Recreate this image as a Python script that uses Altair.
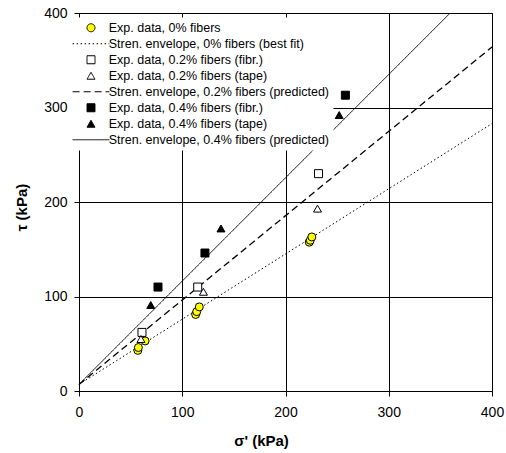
import altair as alt
import pandas as pd

# ---- data ----
series_labels = [
    "Exp. data, 0% fibers",
    "Stren. envelope, 0% fibers (best fit)",
    "Exp. data, 0.2% fibers (fibr.)",
    "Exp. data, 0.2% fibers (tape)",
    "Stren. envelope, 0.2% fibers (predicted)",
    "Exp. data, 0.4% fibers (fibr.)",
    "Exp. data, 0.4% fibers (tape)",
    "Stren. envelope, 0.4% fibers (predicted)",
]

sig_0 = [57, 57.5, 64, 113, 114, 116.5, 223, 224, 225.5]
tau_0 = [43, 46, 53, 81, 84, 89, 157.5, 159.5, 163]
sig_02_fibr = [61, 115, 232]
tau_02_fibr = [62, 110, 230]
sig_02_tape = [60, 120.5, 231]
tau_02_tape = [55, 105, 193]
sig_04_fibr = [76.5, 122, 258]
tau_04_fibr = [110, 146, 313]
sig_04_tape = [69.5, 137.5, 252]
tau_04_tape = [91, 172, 292]

env_sig_0 = [0, 400]
env_tau_0 = [7, 283]
env_sig_02 = [0, 400]
env_tau_02 = [7, 364]
env_sig_04 = [0, 359.5]
env_tau_04 = [7, 400]

tick_values = [0, 100, 200, 300, 400]

# ---- tables ----
def tbl(s, t, name):
    return pd.DataFrame({"sigma": s, "tau": t, "series": name})

points = pd.concat([
    tbl(sig_0, tau_0, series_labels[0]),
    tbl(sig_02_fibr, tau_02_fibr, series_labels[2]),
    tbl(sig_02_tape, tau_02_tape, series_labels[3]),
    tbl(sig_04_fibr, tau_04_fibr, series_labels[5]),
    tbl(sig_04_tape, tau_04_tape, series_labels[6]),
])
lines_thin = pd.concat([
    tbl(env_sig_0, env_tau_0, series_labels[1]),
    tbl(env_sig_04, env_tau_04, series_labels[7]),
])
lines_dash = tbl(env_sig_02, env_tau_02, series_labels[4])

line_path = "M-4.6,0H4.6"
shape_range = ["circle", line_path, "square", "triangle-up", line_path,
               "square", "triangle-up", line_path]
fill_range = ["#FFFF00", "transparent", "white", "white", "transparent",
              "black", "black", "transparent"]
stroke_range = ["black"] * 8
dash_range = [[1, 0], [1.5, 2.5], [1, 0], [1, 0], [7, 4], [1, 0], [1, 0], [1, 0]]

FONT = "Liberation Sans"

leg = alt.Legend(
    title=None, orient="none", legendX=-10.5, legendY=4.5,
    fillColor="white", padding=4, symbolOffset=12.25, labelOffset=11.5,
    rowPadding=3, labelFont=FONT, labelFontSize=12.5, labelColor="black",
    labelLimit=400, symbolStrokeColor="black", symbolStrokeWidth=1,
    symbolSize=64, zindex=2,
)

x_enc = alt.X(
    "sigma:Q",
    scale=alt.Scale(domain=[0, 400], nice=False),
    axis=alt.Axis(
        values=tick_values, title="σ' (kPa)", grid=True, gridColor="black",
        gridWidth=1, domainColor="black", tickColor="black", tickSize=5,
        labelFont=FONT, labelFontSize=14, labelColor="black", labelPadding=9,
        labelFlush=False, titleFont=FONT, titleFontSize=15,
        titleFontWeight="bold", titleColor="black", titleX=182, titleY=49,
        titleBaseline="middle", titleAlign="center",
    ),
)
y_enc = alt.Y(
    "tau:Q",
    scale=alt.Scale(domain=[0, 400], nice=False),
    axis=alt.Axis(
        values=tick_values, title="τ (kPa)", grid=True, gridColor="black",
        gridWidth=1, domainColor="black", tickColor="black", tickSize=5,
        labelFont=FONT, labelFontSize=14, labelColor="black", labelPadding=7,
        titleFont=FONT, titleFontSize=15, titleFontWeight="bold",
        titleColor="black", titleX=-57.5, titleY=194, titleAngle=270,
        titleBaseline="middle", titleAlign="center",
    ),
)

dash_enc = alt.StrokeDash(
    "series:N", scale=alt.Scale(domain=series_labels, range=dash_range),
    legend=leg,
)
stroke_enc = alt.Stroke(
    "series:N", scale=alt.Scale(domain=series_labels, range=stroke_range),
    legend=leg,
)

thin = alt.Chart(lines_thin).mark_line(strokeWidth=1).encode(
    x=x_enc, y=y_enc, strokeDash=dash_enc, stroke=stroke_enc)
dash = alt.Chart(lines_dash).mark_line(strokeWidth=1.3).encode(
    x=x_enc, y=y_enc, strokeDash=dash_enc, stroke=stroke_enc)
pts = alt.Chart(points).mark_point(
    filled=True, size=64, strokeWidth=1, opacity=1
).encode(
    x=x_enc, y=y_enc,
    stroke=stroke_enc,
    shape=alt.Shape("series:N",
                    scale=alt.Scale(domain=series_labels, range=shape_range),
                    legend=leg),
    fill=alt.Fill("series:N",
                  scale=alt.Scale(domain=series_labels, range=fill_range),
                  legend=leg),
)

chart = alt.layer(thin, dash, pts).properties(
    width=413, height=378,
    autosize=alt.AutoSizeParams(type="none"),
    padding={"left": 79, "top": 13, "right": 14, "bottom": 62},
    background="white",
).configure_view(stroke="black", strokeWidth=1)

chart.save("out.html", embed_options={"renderer": "svg", "actions": False})
